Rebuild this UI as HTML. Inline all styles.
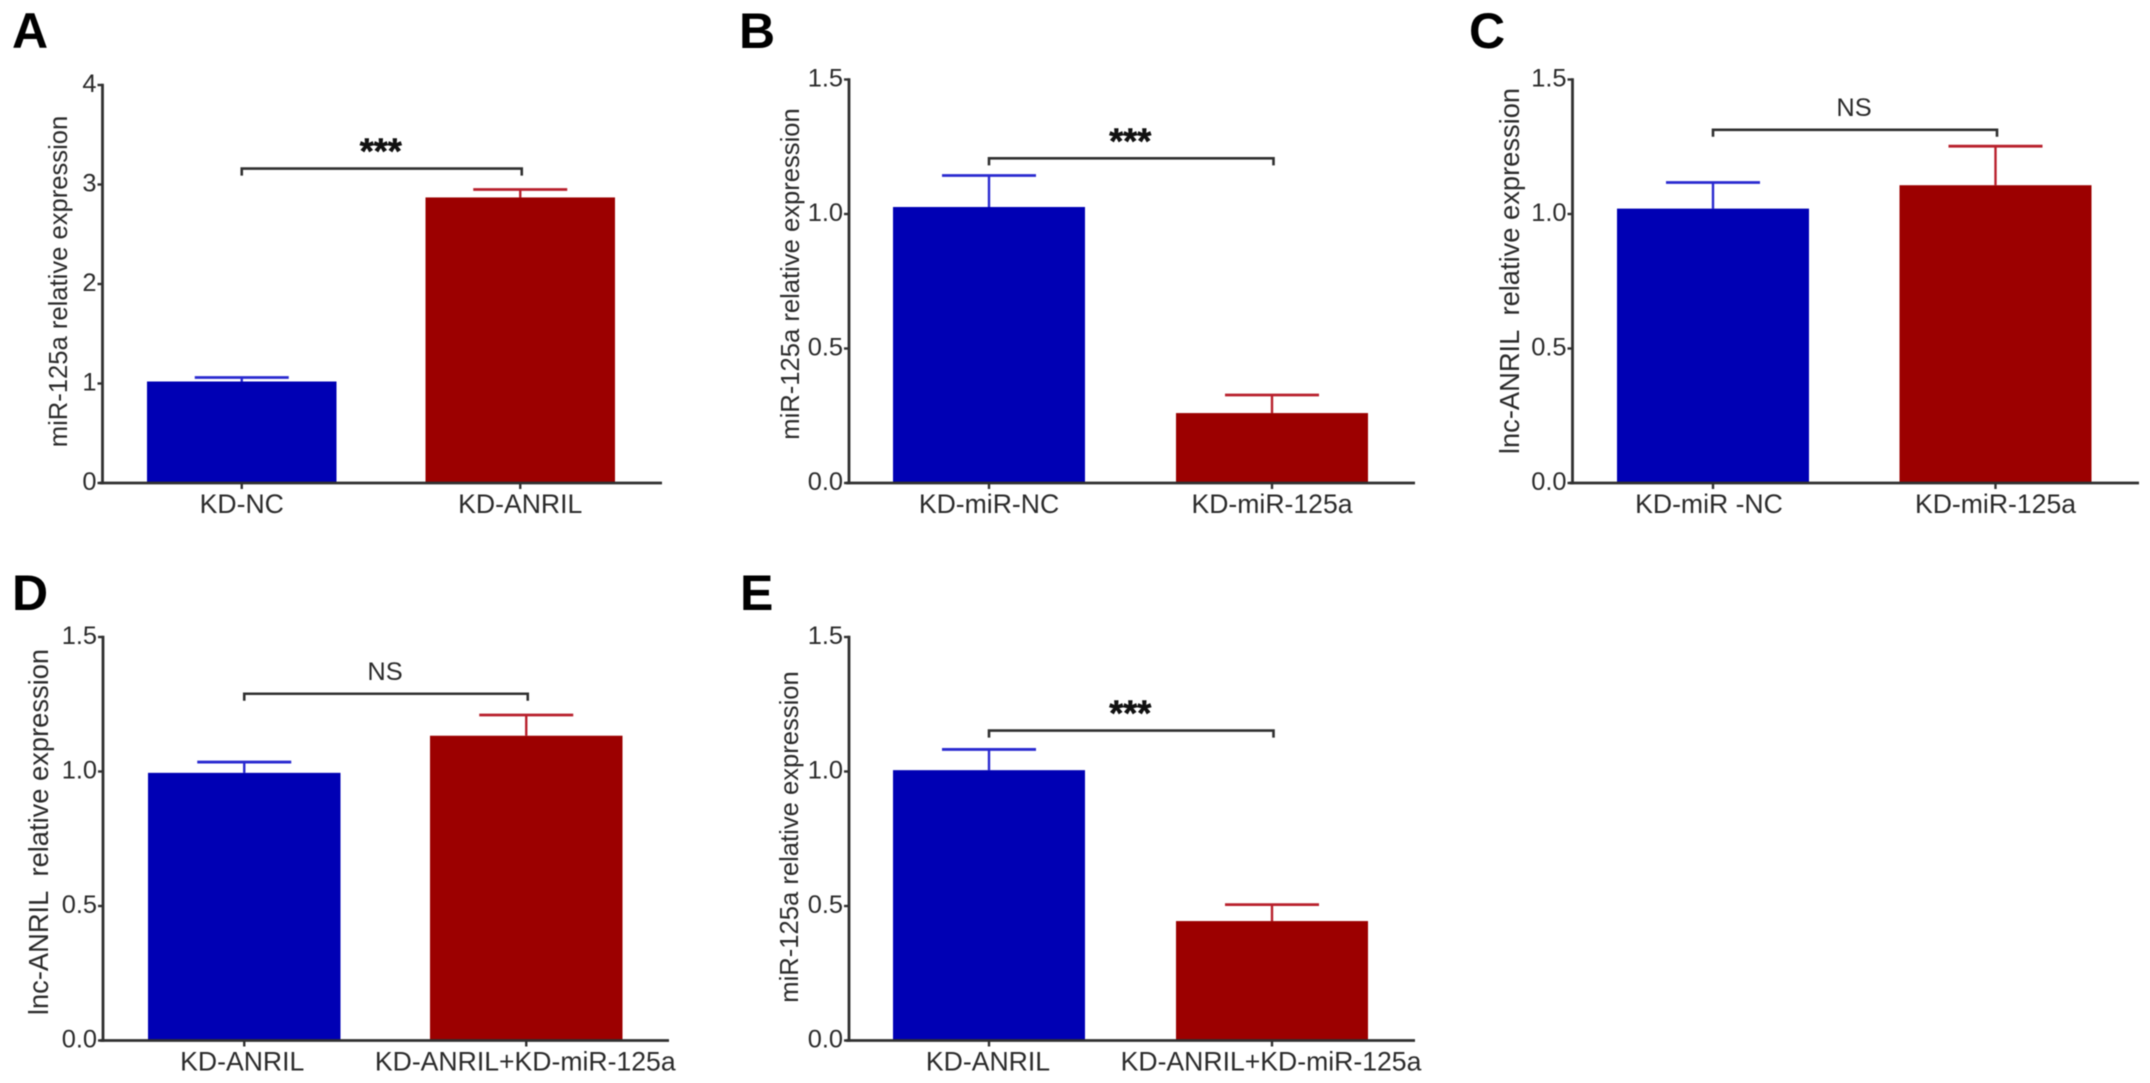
<!DOCTYPE html>
<html lang="en">
<head>
<meta charset="utf-8">
<title>Relative expression bar charts</title>
<style>
html,body{margin:0;padding:0;background:#fff;}
svg{display:block;filter:blur(0.5px);}
text{font-family:"Liberation Sans",sans-serif;fill:#2b2b2b;white-space:pre;}
</style>
</head>
<body>
<svg id="figure" width="2150" height="1083" viewBox="0 0 2150 1083" xmlns="http://www.w3.org/2000/svg"></svg>
<script>
// ---- Data ----
const categoriesA = ['KD-NC', 'KD-ANRIL'];
const valuesA = [1.02, 2.87];
const errorsA = [0.04, 0.08];
const ticksA = [0, 1, 2, 3, 4];
const tickLabelsA = ['0', '1', '2', '3', '4'];
const bracketA = 3.16;

const categoriesB = ['KD-miR-NC', 'KD-miR-125a'];
const valuesB = [1.026, 0.26];
const errorsB = [0.117, 0.067];
const ticksB = [0, 0.5, 1, 1.5];
const tickLabelsB = ['0.0', '0.5', '1.0', '1.5'];
const bracketB = 1.207;

const categoriesC = ['KD-miR -NC', 'KD-miR-125a'];
const valuesC = [1.02, 1.107];
const errorsC = [0.097, 0.145];
const ticksC = [0, 0.5, 1, 1.5];
const tickLabelsC = ['0.0', '0.5', '1.0', '1.5'];
const bracketC = 1.313;

const categoriesD = ['KD-ANRIL', 'KD-ANRIL+KD-miR-125a'];
const valuesD = [0.995, 1.133];
const errorsD = [0.04, 0.077];
const ticksD = [0, 0.5, 1, 1.5];
const tickLabelsD = ['0.0', '0.5', '1.0', '1.5'];
const bracketD = 1.289;

const categoriesE = ['KD-ANRIL', 'KD-ANRIL+KD-miR-125a'];
const valuesE = [1.005, 0.444];
const errorsE = [0.077, 0.061];
const ticksE = [0, 0.5, 1, 1.5];
const tickLabelsE = ['0.0', '0.5', '1.0', '1.5'];
const bracketE = 1.152;

// ---- Layout ----
const NS = 'http://www.w3.org/2000/svg';
const svg = document.getElementById('figure');
const BLUE = '#0000b4', RED = '#9c0000';
const ERR = ['#2a2ad0', '#b8202c'];
const AXIS = '#303030';

function node(parent, tag, props, text) {
  const el = document.createElementNS(NS, tag);
  for (const k in props) el.setAttribute(k, props[k]);
  if (text !== undefined) el.textContent = text;
  parent.appendChild(el);
  return el;
}

function drawPanel(p) {
  const id = p.letter.toLowerCase();
  const g = node(svg, 'g', {});
  
  

  const yScale = v => p.y0 + (p.yTop - p.y0) * v / p.yMax;
  const xCenter = i => p.barX[i] + p.barW / 2;

  const letter = node(g, 'text', {x: p.letterX, y: p.letterY, 'font-size': 50, 'font-weight': 'bold', style: 'fill:#000'}, p.letter);
  
  

  // bars and error bars
  p.values.forEach((v, i) => {
    const top = yScale(v);
    const errTop = yScale(v + p.errors[i]);
    const cx = xCenter(i);

    const stem = node(g, 'line', {x1: cx, x2: cx, y1: top, y2: errTop, stroke: ERR[i], 'stroke-width': 2.4});
    
    

    const cap = node(g, 'line', {x1: cx - 47, x2: cx + 47, y1: errTop, y2: errTop, stroke: ERR[i], 'stroke-width': 2.8});
    
    

    const bar = node(g, 'rect', {x: p.barX[i], y: top, width: p.barW, height: p.y0 - top, fill: i === 0 ? BLUE : RED});
    
    

    const xTick = node(g, 'line', {x1: cx, x2: cx, y1: p.y0, y2: p.y0 + 6, stroke: AXIS, 'stroke-width': 2.4});
    
    

    const catLabel = node(g, 'text', {x: cx + (p.labelDx ? p.labelDx[i] : 0), y: p.y0 + 30, 'font-size': 26.6, 'text-anchor': 'middle'}, p.categories[i]);
    
    
  });

  // axes
  const yAxis = node(g, 'line', {x1: p.axisX, x2: p.axisX, y1: p.yTop - 1.2, y2: p.y0 + 1.2, stroke: AXIS, 'stroke-width': 2.8});
  
  

  const xAxis = node(g, 'line', {x1: p.axisX - 3, x2: p.axisEnd, y1: p.y0, y2: p.y0, stroke: AXIS, 'stroke-width': 2.8});
  
  

  p.ticks.forEach((t, i) => {
    const y = yScale(t);
    const tick = node(g, 'line', {x1: p.axisX - 5, x2: p.axisX, y1: y, y2: y, stroke: AXIS, 'stroke-width': 2.4});
    
    

    const label = node(g, 'text', {x: p.axisX - 6, y: y + 7, 'font-size': 25.4, 'text-anchor': 'end'}, p.tickLabels[i]);
    
    
  });

  // y title
  const title = node(g, 'text', {
    x: 0, y: 0, 'font-size': p.titleSize, 'text-anchor': 'middle',
    transform: 'translate(' + p.titleX + ',' + p.titleY + ') rotate(-90)'
  }, p.title);
  
  

  // significance bracket
  const by = yScale(p.bracket);
  const x1 = xCenter(0), x2 = xCenter(1) + 1.5;
  const bracket = node(g, 'path', {
    d: 'M' + x1 + ' ' + (by + 7) + 'V' + by + 'H' + x2 + 'V' + (by + 7),
    fill: 'none', stroke: AXIS, 'stroke-width': 2.6
  });
  
  

  const isStars = p.sig === '***';
  const sig = node(g, 'text', {
    x: (x1 + x2) / 2 - 1, y: isStars ? by - 5 : by - 14,
    'font-size': isStars ? 36 : 25.4, 'font-weight': isStars ? 'bold' : 'normal',
    'text-anchor': 'middle',
    style: isStars ? 'fill:#111;stroke:#111;stroke-width:.6' : ''
  }, p.sig);
  
  
}

drawPanel({letter: 'A', letterX: 12, letterY: 48, axisX: 102.5, axisEnd: 662, y0: 483, yTop: 85, yMax: 4,
  barX: [147, 425.5], barW: 189.5, categories: categoriesA, values: valuesA, errors: errorsA,
  ticks: ticksA, tickLabels: tickLabelsA, bracket: bracketA, sig: '***',
  title: 'miR-125a relative expression', titleX: 67, titleY: 281.5, titleSize: 25.6});

drawPanel({letter: 'B', letterX: 739, letterY: 48, axisX: 849, axisEnd: 1415, y0: 483, yTop: 79.5, yMax: 1.5,
  barX: [893, 1176], barW: 192, categories: categoriesB, values: valuesB, errors: errorsB,
  ticks: ticksB, tickLabels: tickLabelsB, bracket: bracketB, sig: '***',
  title: 'miR-125a relative expression', titleX: 799, titleY: 274, titleSize: 25.6});

drawPanel({letter: 'C', letterX: 1469, letterY: 48, axisX: 1572.5, axisEnd: 2139, y0: 483, yTop: 79.5, yMax: 1.5,
  barX: [1617, 1899.5], barW: 192, labelDx: [-4, 0], categories: categoriesC, values: valuesC, errors: errorsC,
  ticks: ticksC, tickLabels: tickLabelsC, bracket: bracketC, sig: 'NS',
  title: 'lnc-ANRIL  relative expression', titleX: 1519, titleY: 271, titleSize: 27.3});

drawPanel({letter: 'D', letterX: 12, letterY: 610, axisX: 103, axisEnd: 669, y0: 1040.5, yTop: 637, yMax: 1.5,
  barX: [148, 430], barW: 192.5, labelDx: [-2, -1], categories: categoriesD, values: valuesD, errors: errorsD,
  ticks: ticksD, tickLabels: tickLabelsD, bracket: bracketD, sig: 'NS',
  title: 'lnc-ANRIL  relative expression', titleX: 48, titleY: 832, titleSize: 27.3});

drawPanel({letter: 'E', letterX: 740, letterY: 610, axisX: 849, axisEnd: 1415, y0: 1040.5, yTop: 637, yMax: 1.5,
  barX: [893, 1176], barW: 192, labelDx: [-1, -1], categories: categoriesE, values: valuesE, errors: errorsE,
  ticks: ticksE, tickLabels: tickLabelsE, bracket: bracketE, sig: '***',
  title: 'miR-125a relative expression', titleX: 798, titleY: 837, titleSize: 25.6});
</script>
</body>
</html>
